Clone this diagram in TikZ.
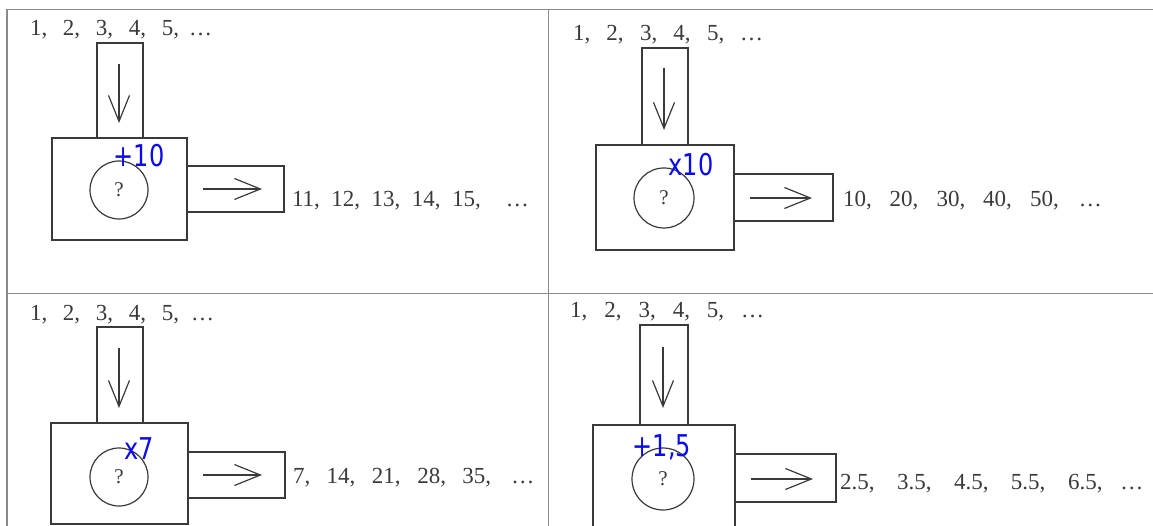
\documentclass[tikz,border=0pt]{standalone}
\usepackage{fontspec}
\setmainfont{Liberation Serif}
\newfontfamily\handfont{DejaVu Sans}
\usetikzlibrary{arrows.meta}
\definecolor{ink}{HTML}{3A3A3A}
\definecolor{frame}{HTML}{8A8A8A}
\definecolor{pen}{RGB}{10,10,240}
\newcommand{\g}[1]{\hspace{#1}}
\begin{document}
\begin{tikzpicture}[x=1pt,y=-1pt,
  every node/.style={inner sep=0pt, outer sep=0pt},
  gridline/.style={draw=frame, line width=1.8pt},
  boxshape/.style={draw=ink, line width=1.2pt, rectangle},
  ball/.style={draw=ink, line width=1.2pt, circle, font=\fontsize{21}{24}\selectfont, text=ink},
  seq/.style={anchor=base west, text=ink, font=\fontsize{23}{27}\selectfont},
  flow/.style={draw=ink, line width=1.2pt, -{Straight Barb[length=26pt,width=21pt]}},
  hand/.style={text=pen, font=\handfont\fontsize{30}{30}\selectfont, xscale=0.8}]
\clip (0,0) rectangle (1153,526);
\fill[white] (0,0) rectangle (1153,526);
% grid
\coordinate (gTL) at (7,9.5);
\coordinate (gTR) at (1160,9.5);
\coordinate (gBL) at (7,540);
\coordinate (gMT) at (548.5,9.5);
\coordinate (gMB) at (548.5,540);
\coordinate (gML) at (7,293.5);
\coordinate (gMR) at (1160,293.5);
\draw[gridline] (gBL) -- (gTL) -- (gTR);
\draw[gridline] (gMT) -- (gMB);
\draw[gridline] (gML) -- (gMR);

% ---------- panel 1 ----------
\node[seq] (in1) at (30,36) {1,\g{15.75pt}2,\g{15.75pt}3,\g{15.75pt}4,\g{15.75pt}5,\g{10pt}\ldots};
\node[boxshape, minimum width=46pt, minimum height=95pt] (ib1) at (120,90.5) {};
\node[boxshape, minimum width=135pt, minimum height=102pt] (mb1) at (119.5,189) {};
\node[boxshape, minimum width=97pt, minimum height=46pt] (ob1) at (235.5,189) {};
\node[ball, minimum size=58pt] (c1) at (119,190) {?};
\coordinate (d1a) at (119,64); \coordinate (d1b) at (119,123);
\coordinate (r1a) at (203,189); \coordinate (r1b) at (262,189);
\draw[flow] (d1a) -- (d1b);
\draw[flow] (r1a) -- (r1b);
\node[seq] (out1) at (292,207) {11,\g{11.5pt}12,\g{11.5pt}13,\g{11.5pt}14,\g{11.5pt}15,\g{25pt}\ldots};
\node[hand] (h1) at (139,156) {+10};

% ---------- panel 2 ----------
\node[seq] (in2) at (573,41) {1,\g{16.25pt}2,\g{16.25pt}3,\g{16.25pt}4,\g{16.25pt}5,\g{16pt}\ldots};
\node[boxshape, minimum width=46pt, minimum height=97pt] (ib2) at (665,96.5) {};
\node[boxshape, minimum width=138pt, minimum height=105pt] (mb2) at (665,197.5) {};
\node[boxshape, minimum width=99pt, minimum height=47pt] (ob2) at (783.5,197.5) {};
\node[ball, minimum size=60pt] (c2) at (664,198) {?};
\coordinate (d2a) at (664,68); \coordinate (d2b) at (664,130);
\coordinate (r2a) at (750,198); \coordinate (r2b) at (812,198);
\draw[flow] (d2a) -- (d2b);
\draw[flow] (r2a) -- (r2b);
\node[seq] (out2) at (843,207) {10,\g{18pt}20,\g{18pt}30,\g{18pt}40,\g{18pt}50,\g{20pt}\ldots};
\node[hand] (h2) at (691,165) {x10};

% ---------- panel 3 ----------
\node[seq] (in3) at (30,321) {1,\g{15.75pt}2,\g{15.75pt}3,\g{15.75pt}4,\g{15.75pt}5,\g{12pt}\ldots};
\node[boxshape, minimum width=46pt, minimum height=96pt] (ib3) at (120,375) {};
\node[boxshape, minimum width=137pt, minimum height=101pt] (mb3) at (119.5,473.5) {};
\node[boxshape, minimum width=97pt, minimum height=46pt] (ob3) at (236.5,475) {};
\node[ball, minimum size=58pt] (c3) at (119,477) {?};
\coordinate (d3a) at (119,348); \coordinate (d3b) at (119,408);
\coordinate (r3a) at (203,475); \coordinate (r3b) at (262,475);
\draw[flow] (d3a) -- (d3b);
\draw[flow] (r3a) -- (r3b);
\node[seq] (out3) at (293,483) {7,\g{16.5pt}14,\g{16.5pt}21,\g{16.5pt}28,\g{16.5pt}35,\g{20pt}\ldots};
\node[hand] (h3) at (139,449) {x7};

% ---------- panel 4 ----------
\node[seq] (in4) at (570,318) {1,\g{17pt}2,\g{17pt}3,\g{17pt}4,\g{17pt}5,\g{17pt}\ldots};
\node[boxshape, minimum width=48pt, minimum height=100pt] (ib4) at (664,375) {};
\node[boxshape, minimum width=142pt, minimum height=105pt] (mb4) at (664,477.5) {};
\node[boxshape, minimum width=101pt, minimum height=48pt] (ob4) at (785.5,478) {};
\node[ball, minimum size=62pt] (c4) at (663,479) {?};
\coordinate (d4a) at (663,347); \coordinate (d4b) at (663,408);
\coordinate (r4a) at (751,479); \coordinate (r4b) at (813,479);
\draw[flow] (d4a) -- (d4b);
\draw[flow] (r4a) -- (r4b);
\node[seq] (out4) at (840,489) {2.5,\g{22.5pt}3.5,\g{22.5pt}4.5,\g{22.5pt}5.5,\g{22.5pt}6.5,\g{18pt}\ldots};
\node[hand] (h4) at (662,447) {+1,5};
\end{tikzpicture}
\end{document}
